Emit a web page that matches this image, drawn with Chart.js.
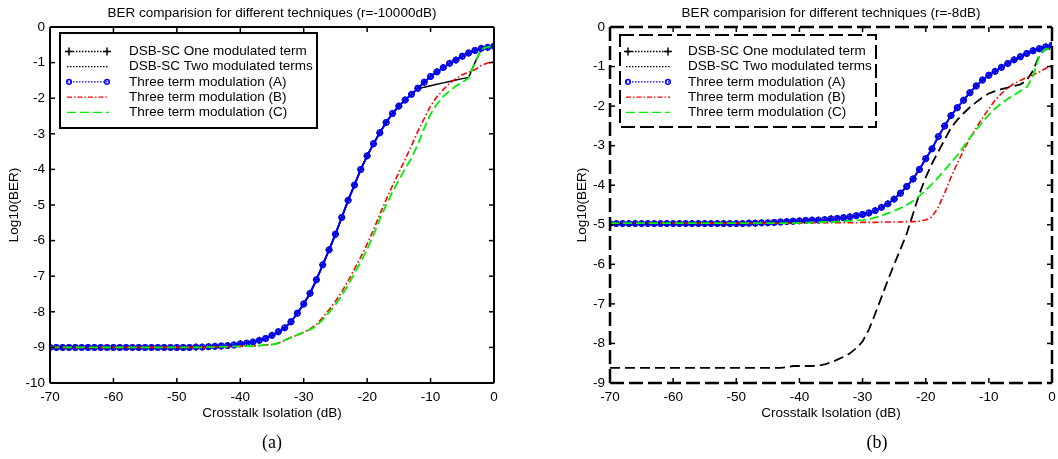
<!DOCTYPE html>
<html lang="en">
<head>
  <meta charset="UTF-8" />
  <title>BER comparision for different techniques</title>
  <script src="https://cdn.jsdelivr.net/npm/chart.js"></script>
  <style>
    html, body { margin: 0; padding: 0; background: #fff; overflow: hidden; }
    #wrap { position: relative; width: 1058px; height: 459px; overflow: hidden; }
    #chartA { position: absolute; left: 0; top: 0; }
    #chartB { position: absolute; left: 529px; top: 0; }
    .caption {
      position: absolute; top: 432px;
      font-family: "Liberation Serif", "Times New Roman", serif; font-size: 18px;
      transform: translateX(-50%);
    }
  </style>
</head>
<body>
  <div id="wrap">
    <canvas id="chartA" width="529" height="459"></canvas>
    <canvas id="chartB" width="560" height="459"></canvas>
    <div class="caption" style="left:272px">(a)</div>
    <div class="caption" style="left:877px">(b)</div>
  </div>

  <script>
    // crosstalk isolation (dB), one point per dB
    const xValues = [
      -70, -69, -68, -67, -66, -65, -64, -63, -62, -61,
      -60, -59, -58, -57, -56, -55, -54, -53, -52, -51,
      -50, -49, -48, -47, -46, -45, -44, -43, -42, -41,
      -40, -39, -38, -37, -36, -35, -34, -33, -32, -31,
      -30, -29, -28, -27, -26, -25, -24, -23, -22, -21,
      -20, -19, -18, -17, -16, -15, -14, -13, -12, -11,
      -10, -9, -8, -7, -6, -5, -4, -3, -2, -1,
      0
    ];
    const xTicks = [-70, -60, -50, -40, -30, -20, -10, 0];

    // ---- (a) r = -10000 dB ----
    const aThreeA = [
      -9, -9, -9, -9, -9, -9, -9, -9, -9, -9,
      -9, -9, -9, -9, -9, -9, -9, -9, -9, -9,
      -9, -9, -9, -8.99, -8.99, -8.98, -8.97, -8.96, -8.95, -8.93,
      -8.90, -8.88, -8.85, -8.80, -8.75, -8.66, -8.56, -8.45, -8.28, -8.04,
      -7.78, -7.48, -7.10, -6.68, -6.26, -5.82, -5.35, -4.87, -4.44, -4.00,
      -3.62, -3.28, -2.97, -2.68, -2.43, -2.22, -2.05, -1.89, -1.72, -1.55,
      -1.39, -1.26, -1.14, -1.02, -0.93, -0.82, -0.73, -0.66, -0.60, -0.57,
      -0.54
    ];
    const aOneTerm = aThreeA; // drawn right under (A)
    const aTwoTerms = [
      -9, -9, -9, -9, -9, -9, -9, -9, -9, -9,
      -9, -9, -9, -9, -9, -9, -9, -9, -9, -9,
      -9, -9, -9, -8.99, -8.99, -8.98, -8.97, -8.96, -8.95, -8.93,
      -8.90, -8.88, -8.85, -8.80, -8.75, -8.66, -8.56, -8.45, -8.28, -8.04,
      -7.78, -7.48, -7.10, -6.68, -6.26, -5.82, -5.35, -4.87, -4.44, -4.00,
      -3.62, -3.28, -2.97, -2.68, -2.43, -2.22, -2.05, -1.89, -1.72, -1.69,
      -1.65, -1.61, -1.57, -1.53, -1.49, -1.45, -1.42, -1.00, -0.62, -0.56,
      -0.54
    ];
    const aThreeB = [
      -9, -9, -9, -9, -9, -9, -9, -9, -9, -9,
      -9, -9, -9, -9, -9, -9, -9, -9, -9, -9,
      -9, -9, -9, -9, -9, -8.99, -8.99, -8.98, -8.98, -8.97,
      -8.97, -8.96, -8.96, -8.95, -8.93, -8.92, -8.88, -8.80, -8.72, -8.65,
      -8.57, -8.48, -8.36, -8.16, -7.94, -7.71, -7.44, -7.13, -6.80, -6.46,
      -6.10, -5.70, -5.26, -4.85, -4.46, -4.09, -3.72, -3.33, -2.93, -2.57,
      -2.22, -1.96, -1.76, -1.58, -1.45, -1.34, -1.27, -1.20, -1.08, -1.01,
      -0.97
    ];
    const aThreeC = [
      -9, -9, -9, -9, -9, -9, -9, -9, -9, -9,
      -9, -9, -9, -9, -9, -9, -9, -9, -9, -9,
      -9, -9, -9, -9, -9, -8.99, -8.99, -8.98, -8.98, -8.97,
      -8.97, -8.96, -8.96, -8.95, -8.93, -8.92, -8.88, -8.80, -8.72, -8.65,
      -8.58, -8.50, -8.40, -8.22, -8.02, -7.80, -7.55, -7.25, -6.92, -6.60,
      -6.25, -5.85, -5.40, -5.00, -4.63, -4.30, -3.98, -3.68, -3.30, -2.85,
      -2.45, -2.17, -1.95, -1.80, -1.66, -1.55, -1.44, -1.00, -0.62, -0.56,
      -0.55
    ];
    const aYTicks = [0, -1, -2, -3, -4, -5, -6, -7, -8, -9, -10];

    // ---- (b) r = -8 dB ----
    const bThreeA = [
      -4.97, -4.97, -4.97, -4.97, -4.97, -4.97, -4.97, -4.97, -4.97, -4.97,
      -4.97, -4.97, -4.97, -4.97, -4.97, -4.97, -4.97, -4.97, -4.97, -4.97,
      -4.97, -4.97, -4.96, -4.96, -4.95, -4.95, -4.94, -4.93, -4.92, -4.91,
      -4.90, -4.89, -4.88, -4.88, -4.87, -4.85, -4.84, -4.82, -4.80, -4.77,
      -4.74, -4.70, -4.64, -4.56, -4.47, -4.35, -4.20, -4.03, -3.84, -3.60,
      -3.33, -3.08, -2.77, -2.50, -2.24, -2.04, -1.85, -1.66, -1.49, -1.34,
      -1.22, -1.12, -1.02, -0.92, -0.83, -0.75, -0.67, -0.60, -0.55, -0.50,
      -0.46
    ];
    const bOneTerm = bThreeA; // drawn right under (A)
    const bTwoTerms = [
      -8.62, -8.62, -8.62, -8.62, -8.62, -8.62, -8.62, -8.62, -8.62, -8.62,
      -8.62, -8.62, -8.62, -8.62, -8.62, -8.62, -8.62, -8.62, -8.62, -8.62,
      -8.62, -8.62, -8.62, -8.62, -8.62, -8.62, -8.62, -8.62, -8.60, -8.57,
      -8.57, -8.57, -8.57, -8.56, -8.53, -8.48, -8.41, -8.34, -8.25, -8.12,
      -7.95, -7.65, -7.25, -6.83, -6.40, -6.00, -5.62, -5.22, -4.72, -4.22,
      -3.80, -3.45, -3.15, -2.85, -2.55, -2.35, -2.18, -2.03, -1.90, -1.78,
      -1.68, -1.62, -1.57, -1.53, -1.49, -1.45, -1.35, -1.10, -0.72, -0.55,
      -0.55
    ];
    const bThreeB = [
      -4.96, -4.96, -4.96, -4.96, -4.96, -4.96, -4.96, -4.96, -4.96, -4.96,
      -4.96, -4.96, -4.96, -4.96, -4.96, -4.96, -4.96, -4.96, -4.96, -4.96,
      -4.96, -4.96, -4.96, -4.96, -4.96, -4.96, -4.96, -4.96, -4.96, -4.96,
      -4.95, -4.95, -4.95, -4.95, -4.95, -4.95, -4.95, -4.95, -4.95, -4.95,
      -4.94, -4.94, -4.94, -4.93, -4.93, -4.93, -4.93, -4.92, -4.92, -4.91,
      -4.88, -4.80, -4.55, -4.20, -3.80, -3.45, -3.12, -2.82, -2.55, -2.30,
      -2.07, -1.85, -1.68, -1.54, -1.43, -1.35, -1.28, -1.21, -1.14, -1.05,
      -0.97
    ];
    const bThreeC = [
      -4.96, -4.96, -4.96, -4.96, -4.96, -4.96, -4.96, -4.96, -4.96, -4.96,
      -4.96, -4.96, -4.96, -4.96, -4.96, -4.96, -4.96, -4.96, -4.96, -4.96,
      -4.96, -4.96, -4.96, -4.96, -4.96, -4.96, -4.96, -4.96, -4.96, -4.96,
      -4.95, -4.95, -4.94, -4.94, -4.93, -4.93, -4.92, -4.91, -4.90, -4.89,
      -4.88, -4.86, -4.82, -4.77, -4.71, -4.65, -4.58, -4.50, -4.40, -4.27,
      -4.13, -3.97, -3.80, -3.62, -3.43, -3.25, -3.03, -2.80, -2.60, -2.40,
      -2.22, -2.06, -1.93, -1.82, -1.72, -1.62, -1.52, -1.25, -0.72, -0.55,
      -0.55
    ];
    const bYTicks = [0, -1, -2, -3, -4, -5, -6, -7, -8, -9];

    const seriesLabels = [
      'DSB-SC One modulated term',
      'DSB-SC Two modulated terms',
      'Three term modulation (A)',
      'Three term modulation (B)',
      'Three term modulation (C)'
    ];

    const FONT = { family: '"Liberation Sans", Arial, sans-serif', size: 13.5 };

    // frame with inward ticks, title and a MATLAB-like legend
    const matlabAxes = {
      id: 'matlabAxes',
      afterDatasetsDraw(chart, args, opt) {
        const { ctx, chartArea: a, scales: { x, y } } = chart;
        ctx.save();
        ctx.strokeStyle = '#000';
        ctx.lineWidth = opt.dashed ? 2.5 : 2;
        ctx.setLineDash(opt.dashed ? [14, 5] : []);
        const seg = (x0, y0, x1, y1) => { ctx.beginPath(); ctx.moveTo(x0, y0); ctx.lineTo(x1, y1); ctx.stroke(); };
        seg(a.left, a.bottom, a.right, a.bottom);
        seg(a.left, a.bottom, a.left, a.top);
        seg(a.left, a.top, a.right, a.top);
        seg(a.right, a.bottom, a.right, a.top);
        ctx.setLineDash([]);
        ctx.lineWidth = 1.5;
        xTicks.forEach(v => {
          const px = x.getPixelForValue(v);
          seg(px, a.bottom, px, a.bottom - 5);
          seg(px, a.top, px, a.top + 5);
        });
        opt.yTicks.forEach(v => {
          const py = y.getPixelForValue(v);
          seg(a.left, py, a.left + 5, py);
          seg(a.right, py, a.right - 5, py);
        });
        ctx.restore();
      },
      afterDraw(chart, args, opt) {
        const { ctx, chartArea: a } = chart;
        ctx.save();
        ctx.font = `${FONT.size}px ${FONT.family}`;
        ctx.fillStyle = '#000';
        ctx.textAlign = 'center';
        ctx.textBaseline = 'middle';
        ctx.fillText(opt.title, (a.left + a.right) / 2, 13);

        const L = opt.legend;
        ctx.fillStyle = '#fff';
        ctx.fillRect(L.x, L.y, L.w, L.h);
        ctx.strokeStyle = '#000';
        ctx.lineWidth = 2;
        ctx.setLineDash(opt.dashed ? [14, 5] : []);
        ctx.strokeRect(L.x, L.y, L.w, L.h);
        ctx.textAlign = 'left';
        chart.data.datasets.forEach((ds, i) => {
          const yy = L.row0 + i * L.gap;
          ctx.strokeStyle = ds.borderColor;
          ctx.lineWidth = 1.3;
          ctx.setLineDash(ds.legendDash);
          ctx.beginPath(); ctx.moveTo(L.s0, yy); ctx.lineTo(L.s1, yy); ctx.stroke();
          ctx.setLineDash([]);
          if (ds.pointStyle) {
            [L.s0 + 2, L.s1 - 2].forEach(mx => {
              ctx.lineWidth = 1.5;
              ctx.beginPath();
              if (ds.pointStyle === 'circle') {
                ctx.arc(mx, yy, 2.3, 0, Math.PI * 2);
              } else {
                ctx.moveTo(mx - 4, yy); ctx.lineTo(mx + 4, yy);
                ctx.moveTo(mx, yy - 4); ctx.lineTo(mx, yy + 4);
              }
              ctx.stroke();
            });
          }
          ctx.fillStyle = '#000';
          ctx.fillText(ds.label, L.text, yy);
        });
        ctx.restore();
      }
    };

    function buildChart(id, c) {
      const styles = [
        { color: '#000000', width: 1.5, dash: [], marker: 'cross', radius: 3.5, order: 4, legendDash: [1.5, 1.5] },
        { color: '#000000', width: c.twoWidth, dash: c.twoDash, marker: false, order: 3, legendDash: [1.5, 1.5] },
        { color: '#0000ff', width: 2, dash: [], marker: 'circle', radius: 2.6, order: 2, legendDash: [1.5, 1.5] },
        { color: '#ff0000', width: 1.6, dash: [6, 2.5, 1.5, 2.5], marker: false, order: 1, legendDash: [5, 2, 1.5, 2] },
        { color: '#00ee00', width: 1.8, dash: [9, 4], marker: false, order: 0, legendDash: [9, 4] }
      ];
      const datasets = c.series.map((vals, i) => {
        const s = styles[i];
        return {
          label: seriesLabels[i],
          data: xValues.map((xv, k) => ({ x: xv, y: vals[k] })),
          borderColor: s.color,
          borderWidth: s.width,
          borderDash: s.dash,
          pointStyle: s.marker,
          pointRadius: s.marker ? s.radius : 0,
          pointBorderColor: s.color,
          pointBackgroundColor: 'rgba(0,0,0,0)',
          pointBorderWidth: 1.6,
          tension: 0,
          order: s.order,
          legendDash: s.legendDash
        };
      });

      return new Chart(document.getElementById(id), {
        type: 'line',
        data: { datasets },
        plugins: [matlabAxes],
        options: {
          responsive: false,
          animation: false,
          events: [],
          layout: { padding: { top: 27, left: c.padLeft, right: c.padRight, bottom: 0 } },
          plugins: {
            legend: { display: false },
            tooltip: { enabled: false },
            title: { display: false },
            matlabAxes: { title: c.title, dashed: c.dashed, yTicks: c.yTicks, legend: c.legend }
          },
          scales: {
            x: {
              type: 'linear', min: -70, max: 0,
              ticks: { stepSize: 10, padding: 6, color: '#000', font: FONT, maxRotation: 0 },
              grid: { display: false, drawTicks: false },
              border: { display: false },
              title: { display: true, text: 'Crosstalk Isolation (dB)', color: '#000', font: FONT, padding: { top: 0, bottom: 38 } },
              afterFit: s => { s.height = 76; }
            },
            y: {
              min: c.yTicks[c.yTicks.length - 1], max: 0,
              ticks: { stepSize: 1, padding: 5, color: '#000', font: FONT },
              grid: { display: false, drawTicks: false },
              border: { display: false },
              title: { display: true, text: 'Log10(BER)', color: '#000', font: FONT, padding: { top: c.yTitlePad, bottom: 0 } },
              afterFit: s => { s.width = 50; }
            }
          }
        }
      });
    }

    buildChart('chartA', {
      title: 'BER comparision for different techniques (r=-10000dB)',
      series: [aOneTerm, aTwoTerms, aThreeA, aThreeB, aThreeC],
      yTicks: aYTicks,
      dashed: false,
      twoWidth: 1.5, twoDash: [],
      padLeft: 0, padRight: 35, yTitlePad: 6,
      legend: { x: 60, y: 33, w: 257, h: 95, s0: 67, s1: 109, text: 129, row0: 51.5, gap: 15.2 }
    });

    buildChart('chartB', {
      title: 'BER comparision for different techniques (r=-8dB)',
      series: [bOneTerm, bTwoTerms, bThreeA, bThreeB, bThreeC],
      yTicks: bYTicks,
      dashed: true,
      twoWidth: 1.8, twoDash: [10, 5],
      padLeft: 31, padRight: 37, yTitlePad: 14,
      legend: { x: 91, y: 35, w: 256, h: 92, s0: 97, s1: 141, text: 159, row0: 51.5, gap: 15.2 }
    });
  </script>
</body>
</html>
